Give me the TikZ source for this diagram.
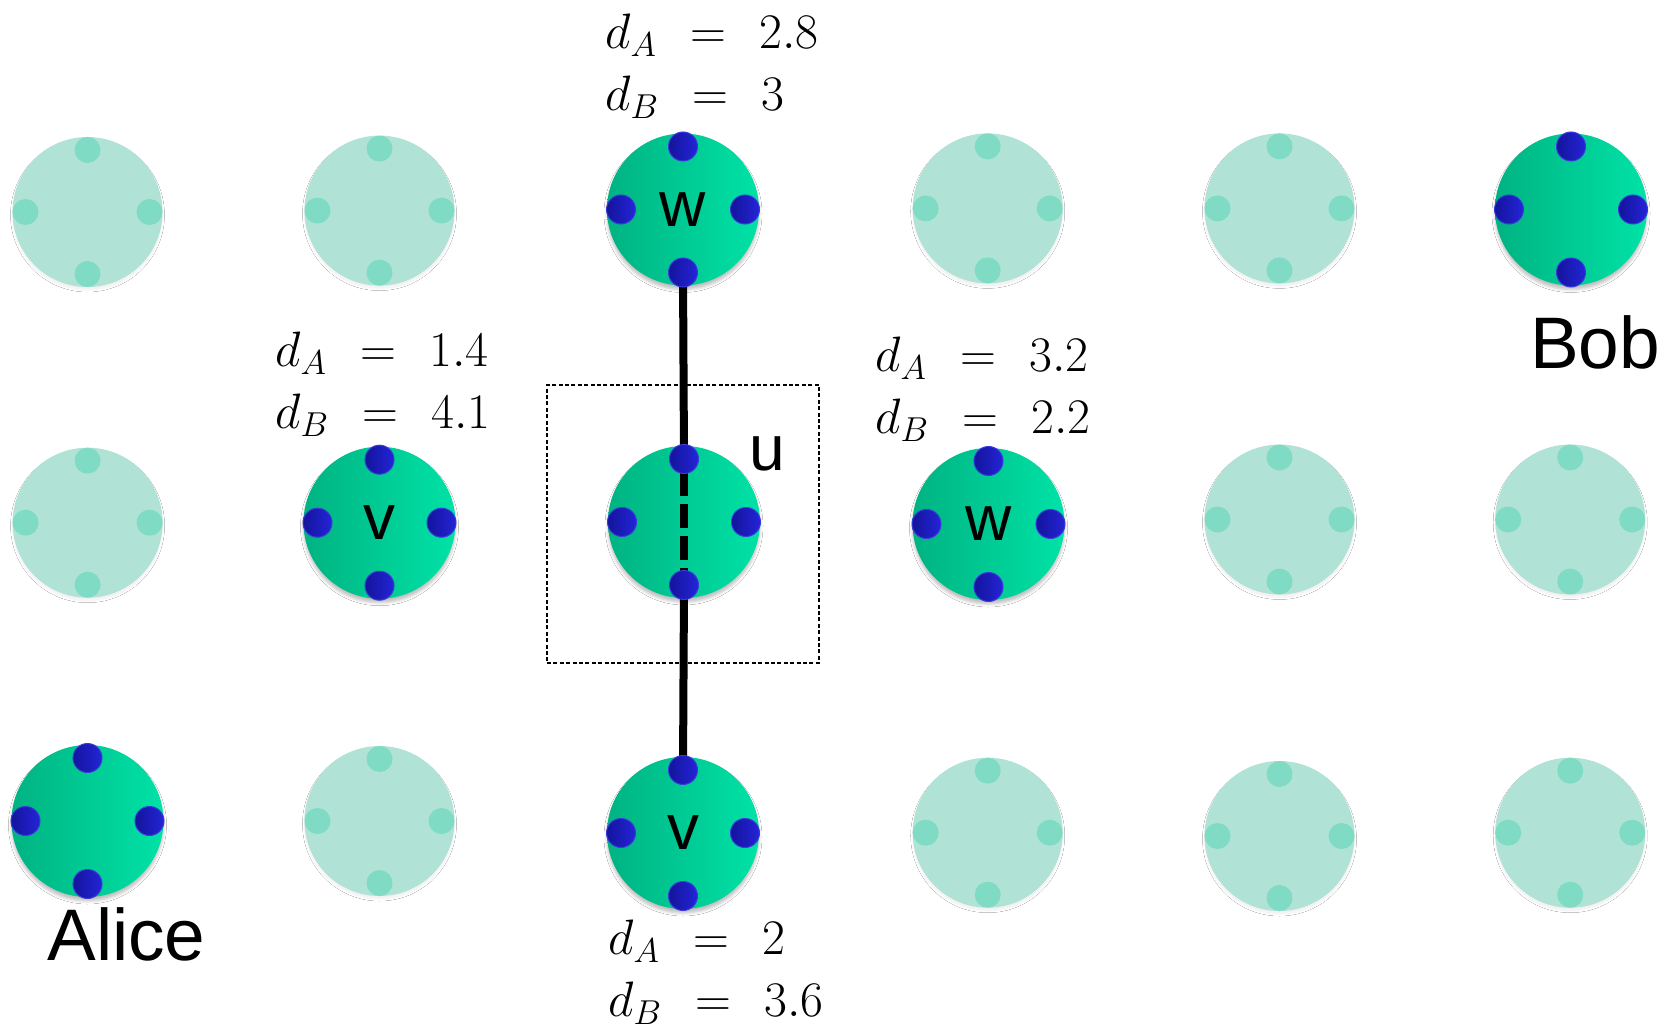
\documentclass[tikz,border=0pt]{standalone}
\usepackage{fontspec}
\newfontfamily\labelfont{Liberation Sans}
\usetikzlibrary{positioning,calc,shadows.blur}
\definecolor{stleft}{HTML}{00B382}
\definecolor{stright}{HTML}{00E2A6}
\definecolor{dotleft}{HTML}{14149C}
\definecolor{dotright}{HTML}{2424D8}
\definecolor{dotrim}{HTML}{3A3ADB}
\definecolor{fadefill}{HTML}{B0E3D6}
\definecolor{fadedot}{HTML}{80DBC4}
\pgfdeclarelayer{links}
\pgfdeclarelayer{front}
\pgfsetlayers{main,links,front}
\newcommand{\gp}{\mkern7mu}
\tikzset{
  station/.style={circle,minimum size=76pt,inner sep=0pt,shading=axis,left color=stleft,right color=stright,
    blur shadow={shadow xshift=0pt,shadow yshift=-2pt,shadow blur radius=1.5pt,shadow opacity=25},
    font=\labelfont\fontsize{32}{32}\selectfont},
  faded/.style={circle,minimum size=75pt,inner sep=0pt,fill=fadefill,
    blur shadow={shadow xshift=0pt,shadow yshift=-1.5pt,shadow blur radius=1pt,shadow opacity=6}},
  port/.style={circle,minimum size=14.5pt,inner sep=0pt,shading=axis,left color=dotleft,right color=dotright,draw=dotrim,line width=0.5pt},
  fadeport/.style={circle,minimum size=13pt,inner sep=0pt,fill=fadedot},
  link/.style={line width=4pt,draw=black},
  dashlink/.style={link,dash pattern=on 12pt off 4pt,dash phase=9.5pt},
  dist/.style={align=left,anchor=north west,inner sep=0pt,font=\fontsize{24}{31}\selectfont},
  player/.style={font=\labelfont\fontsize{36.5}{36.5}\selectfont,anchor=base,inner sep=0pt},
  focusbox/.style={draw,line width=0.6pt,dash pattern=on 2pt off 1.2pt,inner sep=0pt}
}
\begin{document}
\begin{tikzpicture}[x=0.5pt,y=-0.5pt]
  \path[use as bounding box,fill=white] (0,0) rectangle (1676,1032);

  % idle stations
  \foreach \nm/\px/\py in {f11/87.5/212, f12/379.5/210.6, f14/987.7/208.4, f15/1279.5/208.4,
      f21/87.6/522.7, f25/1279.5/519.5, f26/1570.2/519.5,
      f32/379.5/821, f34/987.7/832.7, f35/1279.5/836, f36/1570.2/832.7} {
    \node[faded] (\nm) at (\px,\py) {};
    \foreach \side/\dx/\dy in {n/0/-62,s/0/62,e/62/0,w/-62/0}
      \node[fadeport] (\nm-\side) at ($(\nm)+(\dx,\dy)$) {};
  }

  % active stations
  \foreach \nm/\px/\py/\txt in {wtop/683/209.5/w, vleft/379.5/522.7/v, u/684/522/{}, wright/988.5/524/w,
      vbot/683/833/v, alice/87.5/821/{}, bob/1571/209.5/{}}
    \node[station] (\nm) at (\px,\py) {\txt};
  \begin{pgfonlayer}{front}
    \foreach \nm in {wtop,vleft,u,wright,vbot,alice,bob}
      \foreach \side/\dx/\dy in {n/0/-63,s/0/63,e/62/0,w/-62/0}
        \node[port] (\nm-\side) at ($(\nm)+(\dx,\dy)$) {};
  \end{pgfonlayer}

  \node[focusbox,minimum width=136pt,minimum height=139pt] (window) at (683,524) {};
  \node[font=\labelfont\fontsize{32}{32}\selectfont,inner sep=0pt] (ulabel) at (767,454) {u};

  \begin{pgfonlayer}{links}
    \draw[link] (wtop-s.center) -- (u-n.center);
    \draw[dashlink] (u-n.center) -- (u-s.center);
    \draw[link] (u-s.center) -- (vbot-n.center);
  \end{pgfonlayer}

  % distances
  \node[dist] (dwtop) at (605,14) {$d_A\gp=\gp 2.8$\\$d_B\gp=\gp 3$};
  \node[dist] (dvleft) at (275,332) {$d_A\gp=\gp 1.4$\\$d_B\gp=\gp 4.1$};
  \node[dist] (dwright) at (875,337) {$d_A\gp=\gp 3.2$\\$d_B\gp=\gp 2.2$};
  \node[dist] (dvbot) at (608,920) {$d_A\gp=\gp 2$\\$d_B\gp=\gp 3.6$};

  \node[player] (alicename) at (126.5,960) {Alice};
  \node[player] (bobname) at (1595,368) {Bob};
\end{tikzpicture}
\end{document}
